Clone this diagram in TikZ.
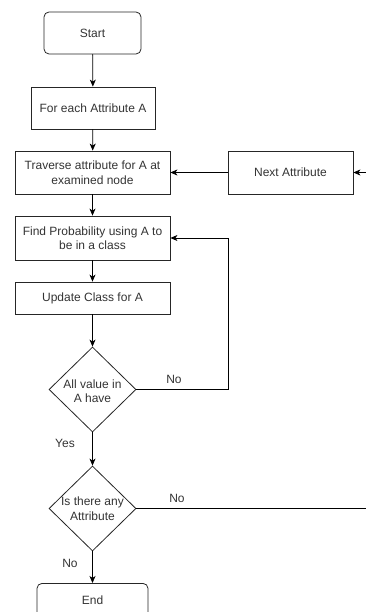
\documentclass[tikz,border=0pt]{standalone}
\usepackage{fontspec}
\setmainfont{Liberation Sans}
\usetikzlibrary{arrows.meta,shapes.geometric}
\definecolor{txt}{HTML}{333333}
\begin{document}
\begin{tikzpicture}[x=1pt,y=-1pt,
  box/.style={draw=black!85,line width=0.8pt,inner sep=0pt,font=\fontsize{12}{14.5}\selectfont,text=txt,align=center},
  rbox/.style={box,rounded corners=5pt},
  dec/.style={draw=black!85,line width=0.8pt,diamond,inner sep=0pt,minimum width=87pt,minimum height=85pt,font=\fontsize{12}{14.5}\selectfont,text=txt,align=center},
  conn/.style={line width=0.8pt,-{Stealth[length=7pt,width=6pt,inset=2pt]}},
  lbl/.style={font=\fontsize{12}{14.5}\selectfont,text=txt}]
\useasboundingbox (0,0) rectangle (366,612);
\clip (0,0) rectangle (366,612);
\node[rbox,minimum width=97pt,minimum height=42pt] (start) at (92.5,33) {Start};
\node[box,minimum width=124pt,minimum height=42pt] (each) at (93,108) {For each Attribute A};
\node[box,minimum width=155pt,minimum height=43pt] (trav) at (92.5,172.5) {Traverse attribute for A at\\examined node};
\node[box,minimum width=125pt,minimum height=43pt] (next) at (290.5,172.5) {Next Attribute};
\node[box,minimum width=155pt,minimum height=44pt] (prob) at (92.5,238) {Find Probability using A to\\be in a class};
\node[box,minimum width=155pt,minimum height=32pt] (upd) at (92.5,298) {Update Class for A};
\node[dec] (d1) at (92.5,389.5) {\phantom{A}};
\node[lbl,align=center] (d1t) at (92.5,391) {All value in\\A have};
\node[dec] (d2) at (92.5,508.5) {\phantom{A}};
\node[lbl,align=center] (d2t) at (92.5,508.5) {Is there any\\Attribute};
\node[rbox,minimum width=111pt,minimum height=60pt,anchor=north] (end) at (92.5,583) {};
\node[lbl] (endt) at (92.5,600) {End};
\coordinate (rin) at (366,172.5);
\coordinate (rout) at (366,508.5);
\coordinate (loopc) at (228,389.5);
\draw[conn] (start) -- (each);
\draw[conn] (each) -- (trav);
\draw[conn] (trav) -- (prob);
\draw[conn] (prob) -- (upd);
\draw[conn] (upd) -- (d1);
\draw[conn] (d1) -- (d2);
\draw[conn] (d2) -- (end);
\draw[conn] (next) -- (trav);
\draw[conn] (rin) -- (next);
\draw[conn] (d1.east) -- (loopc) |- (prob.east);
\draw[line width=0.8pt] (d2.east) -- (rout);
\node[lbl] (no1) at (174,379) {No};
\node[lbl] (yes) at (65,443) {Yes};
\node[lbl] (no2) at (177,498) {No};
\node[lbl] (no3) at (70,563) {No};
\end{tikzpicture}
\end{document}
